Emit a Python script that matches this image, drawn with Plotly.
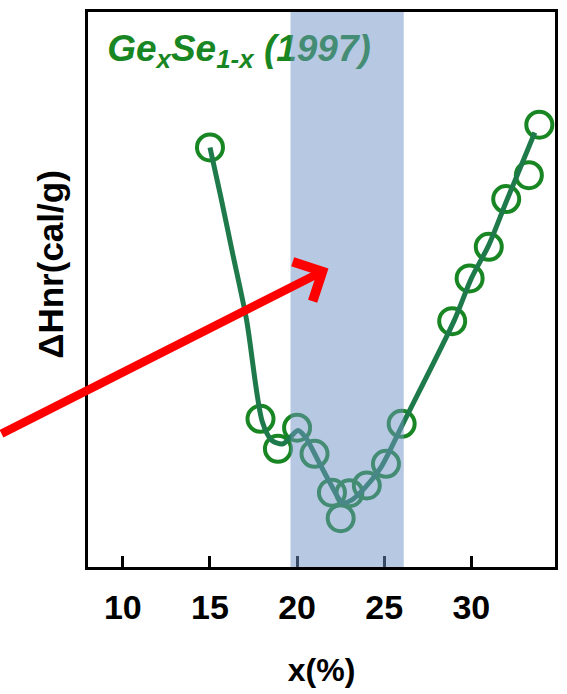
import plotly.graph_objects as go

# Data (y in arbitrary units, axis unlabeled)
x_pct = [15, 17.9, 18.9, 20.0, 21.0, 22.0, 22.5, 23.0, 24.0, 25.1, 26.0, 28.9, 29.9, 31.0, 32.0, 33.3, 33.9]
dH_nr = [75.6, 26.7, 21.3, 25.1, 20.4, 13.4, 8.8, 13.3, 14.7, 18.6, 25.8, 44.3, 52.0, 57.7, 66.3, 70.6, 79.7]

# guide (smooth) line drawn through the data
guide_x = [15, 15.6, 16.3, 17.1, 18.0, 18.55, 19.2, 20.05, 20.5, 21.2, 21.9, 22.6, 23.1, 23.9, 24.8, 26.07, 29.0, 30.0, 31.0, 32.0, 33.64]
guide_y = [75.6, 67.0, 56.5, 44.5, 26.2, 22.8, 22.2, 24.6, 23.3, 19.2, 15.1, 11.6, 12.0, 14.3, 17.9, 25.8, 44.3, 52.0, 58.0, 65.8, 78.3]

band_x = [19.62, 26.12]
x_ticks = [10, 15, 20, 25, 30]

FONT = "Liberation Sans, Arial, sans-serif"
GREEN = "rgb(24,134,34)"
LINE = "rgb(30,122,74)"

fig = go.Figure()

fig.add_trace(go.Scatter(
    x=x_pct, y=dH_nr, mode="markers",
    marker=dict(symbol="circle-open", size=26, line=dict(width=4, color=GREEN), color=GREEN),
    showlegend=False, hoverinfo="skip"))

fig.add_trace(go.Scatter(
    x=guide_x, y=guide_y, mode="lines",
    line=dict(color=LINE, width=5, shape="spline", smoothing=0.8),
    showlegend=False, hoverinfo="skip"))

# label as trace text so the band tints it
fig.add_trace(go.Scatter(
    x=[9.1], y=[92.9], mode="text",
    text=["<b><i>Ge<sub>x</sub>Se<sub>1-x</sub> (1997)</i></b>"],
    textposition="middle right",
    textfont=dict(family=FONT, size=37, color=GREEN),
    showlegend=False, hoverinfo="skip"))

fig.add_shape(type="rect", xref="x", yref="paper", x0=band_x[0], x1=band_x[1], y0=0, y1=1,
              fillcolor="rgb(111,147,197)", opacity=0.5, line=dict(width=0), layer="above")

# red arrow
fig.add_annotation(x=21.8, y=53.8, xref="x", yref="y", ax=-345, ay=166, axref="pixel", ayref="pixel",
                   showarrow=True, arrowhead=4, arrowsize=1.0, arrowwidth=8.5, arrowcolor="rgb(255,0,0)",
                   text="", standoff=0)

# y title
fig.add_annotation(x=-0.081, y=0.545, xref="paper", yref="paper", text="<b>ΔHnr(cal/g)</b>",
                   textangle=-90, showarrow=False, xanchor="center", yanchor="middle",
                   font=dict(family=FONT, size=35, color="black"))

fig.update_layout(
    width=567, height=694,
    margin=dict(l=88, r=9, t=9, b=127),
    paper_bgcolor="white", plot_bgcolor="white",
    font=dict(family=FONT, color="black"),
    xaxis=dict(range=[8.0, 34.8], tickvals=x_ticks, ticks="inside", ticklen=11, tickwidth=2.5,
               tickcolor="black", showline=True, linecolor="black", linewidth=3, mirror=True,
               showgrid=False, zeroline=False,
               tickfont=dict(family=FONT, size=34, color="black", weight="bold"), ticklabelstandoff=8,
               title=dict(text="<b>x(%)</b>", font=dict(family=FONT, size=32, color="black"), standoff=34)),
    yaxis=dict(range=[0, 100], showticklabels=False, ticks="", showline=True, linecolor="black",
               linewidth=3, mirror=True, showgrid=False, zeroline=False),
)

fig.write_html("out.html")
